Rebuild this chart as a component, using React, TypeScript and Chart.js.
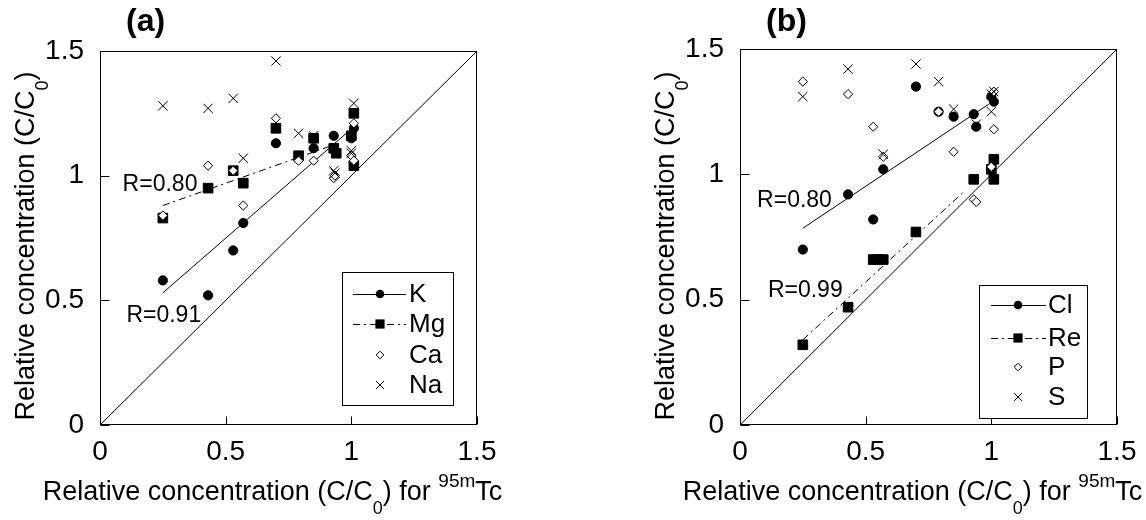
import React, { useEffect, useRef } from 'react';
import { Chart, registerables } from 'chart.js';

Chart.register(...registerables);

const FONT = "'Liberation Sans', Arial, Helvetica, sans-serif";

// ---------- Axis ----------
const AXIS_MIN = 0;
const AXIS_MAX = 1.5;
const AXIS_STEP = 0.5;

// ---------- Panel (a) ----------
const A_K_X = [0.25, 0.43, 0.53, 0.57, 0.70, 0.85, 0.93, 1.00, 1.01];
const A_K_Y = [0.58, 0.52, 0.70, 0.81, 1.13, 1.11, 1.16, 1.15, 1.19];
const A_MG_X = [0.25, 0.43, 0.53, 0.57, 0.70, 0.79, 0.85, 0.93, 0.94, 1.00, 1.01, 1.01];
const A_MG_Y = [0.83, 0.95, 1.02, 0.97, 1.19, 1.08, 1.15, 1.11, 1.09, 1.16, 1.25, 1.04];
const A_CA_X = [0.25, 0.43, 0.53, 0.57, 0.70, 0.79, 0.85, 0.93, 0.935, 1.00, 1.01, 1.01];
const A_CA_Y = [0.84, 1.04, 1.02, 0.88, 1.23, 1.06, 1.06, 0.99, 1.00, 1.08, 1.21, 1.06];
const A_NA_X = [0.25, 0.43, 0.53, 0.57, 0.70, 0.79, 0.85, 0.93, 0.935, 1.00, 1.01, 1.00];
const A_NA_Y = [1.28, 1.27, 1.31, 1.07, 1.46, 1.17, 1.16, 1.02, 1.01, 1.10, 1.29, 1.09];
const A_K_FIT_X = [0.25, 0.98];
const A_K_FIT_Y = [0.53, 1.17];
const A_MG_FIT_X = [0.25, 0.92];
const A_MG_FIT_Y = [0.88, 1.12];

// ---------- Panel (b) ----------
const B_CL_X = [0.25, 0.43, 0.53, 0.57, 0.70, 0.79, 0.85, 0.93, 0.94, 1.00, 1.01];
const B_CL_Y = [0.70, 0.92, 0.82, 1.02, 1.35, 1.25, 1.23, 1.24, 1.19, 1.31, 1.29];
const B_RE_X = [0.25, 0.43, 0.53, 0.55, 0.57, 0.70, 0.93, 1.00, 1.01, 1.01];
const B_RE_Y = [0.32, 0.47, 0.66, 0.66, 0.66, 0.77, 0.98, 1.02, 1.06, 0.98];
const B_P_X = [0.25, 0.43, 0.53, 0.57, 0.79, 0.85, 0.93, 0.94, 1.00, 1.01, 1.01];
const B_P_Y = [1.37, 1.32, 1.19, 1.07, 1.25, 1.09, 0.90, 0.89, 1.03, 1.18, 1.33];
const B_S_X = [0.25, 0.43, 0.57, 0.70, 0.79, 0.85, 0.94, 1.00, 1.00, 1.01];
const B_S_Y = [1.31, 1.42, 1.08, 1.44, 1.37, 1.26, 1.20, 1.25, 1.32, 1.33];
const B_CL_FIT_X = [0.25, 0.99];
const B_CL_FIT_Y = [0.785, 1.28];
const B_RE_FIT_X = [0.25, 0.89];
const B_RE_FIT_Y = [0.34, 0.93];

// 1:1 line
const DIAG_X = [0, 1.5];
const DIAG_Y = [0, 1.5];

const zip = (xs: number[], ys: number[]) => xs.map((x, i) => ({ x, y: ys[i] }));

const DASH_DOT = [7, 4, 2, 4];

type Kind = 'circle' | 'rect' | 'rectRot' | 'crossRot';
interface SeriesDef { label: string; kind: Kind; xs: number[]; ys: number[]; order: number; }
interface FitDef { xs: number[]; ys: number[]; dash: number[]; }
interface LegendItem { label: string; kind: Kind; line: number[] | null; }
interface PanelDef {
  title: string;
  series: SeriesDef[];
  fits: FitDef[];
  legend: LegendItem[];
  legendBox: { x: number; y: number; w: number; h: number; rows: number[]; lineX1: number; lineX2: number; markX: number; textX: number };
  rLabels: { text: string; x: number; y: number }[];
  padding: { left: number; right: number; top: number; bottom: number };
}

function pointOpts(kind: Kind) {
  switch (kind) {
    case 'circle':
      return { pointStyle: 'circle', pointRadius: 4.6, backgroundColor: '#000', borderColor: '#000', borderWidth: 1 };
    case 'rect':
      return { pointStyle: 'rect', pointRadius: 6.8, backgroundColor: '#000', borderColor: '#000', borderWidth: 1 };
    case 'rectRot':
      return { pointStyle: 'rectRot', pointRadius: 4.6, backgroundColor: '#fff', borderColor: '#000', borderWidth: 1 };
    case 'crossRot':
    default:
      return { pointStyle: 'crossRot', pointRadius: 6.6, backgroundColor: '#000', borderColor: '#000', borderWidth: 1 };
  }
}

function drawMarker(ctx: CanvasRenderingContext2D, kind: Kind, x: number, y: number) {
  ctx.save();
  ctx.lineWidth = 1;
  ctx.strokeStyle = '#000';
  ctx.fillStyle = '#000';
  ctx.setLineDash([]);
  ctx.beginPath();
  if (kind === 'circle') {
    ctx.arc(x, y, 4.3, 0, Math.PI * 2);
    ctx.fill();
  } else if (kind === 'rect') {
    ctx.fillRect(x - 4.6, y - 4.6, 9.2, 9.2);
  } else if (kind === 'rectRot') {
    const r = 3.8;
    ctx.moveTo(x - r, y);
    ctx.lineTo(x, y - r);
    ctx.lineTo(x + r, y);
    ctx.lineTo(x, y + r);
    ctx.closePath();
    ctx.fillStyle = '#fff';
    ctx.fill();
    ctx.stroke();
  } else {
    const r = 4;
    ctx.moveTo(x - r, y - r);
    ctx.lineTo(x + r, y + r);
    ctx.moveTo(x + r, y - r);
    ctx.lineTo(x - r, y + r);
    ctx.stroke();
  }
  ctx.restore();
}

interface Seg { t: string; size: number; dy: number; }
function drawRich(ctx: CanvasRenderingContext2D, segs: Seg[], cx: number, baseline: number) {
  const widths = segs.map((s) => {
    ctx.font = `${s.size}px ${FONT}`;
    return ctx.measureText(s.t).width;
  });
  const total = widths.reduce((a, b) => a + b, 0);
  let x = cx - total / 2;
  ctx.textAlign = 'left';
  ctx.textBaseline = 'alphabetic';
  segs.forEach((s, i) => {
    ctx.font = `${s.size}px ${FONT}`;
    ctx.fillText(s.t, x, baseline + s.dy);
    x += widths[i];
  });
}

const Y_TITLE: Seg[] = [
  { t: 'Relative concentration (C/C', size: 27, dy: 0 },
  { t: '0', size: 18, dy: 14 },
  { t: ')', size: 27, dy: 0 },
];
const X_TITLE: Seg[] = [
  { t: 'Relative concentration (C/C', size: 27, dy: 0 },
  { t: '0', size: 18, dy: 14 },
  { t: ') for ', size: 27, dy: 0 },
  { t: '95m', size: 19, dy: -13 },
  { t: 'Tc', size: 27, dy: 0 },
];

function decorPlugin(p: PanelDef) {
  return {
    id: 'panelDecor',
    afterDraw(chart: any) {
      const ctx: CanvasRenderingContext2D = chart.ctx;
      const a = chart.chartArea;
      const xs = chart.scales.x;
      const ys = chart.scales.y;
      ctx.save();
      ctx.strokeStyle = '#000';
      ctx.lineWidth = 1;
      ctx.setLineDash([]);
      const L = Math.round(a.left) + 0.5;
      const R = Math.round(a.right) - 0.5;
      const T = Math.round(a.top) + 0.5;
      const B = Math.round(a.bottom) - 0.5;
      ctx.strokeRect(L, T, R - L, B - T);
      ctx.beginPath();
      xs.ticks.forEach((t: any) => {
        const px = Math.round(xs.getPixelForValue(t.value)) + 0.5;
        ctx.moveTo(px, B);
        ctx.lineTo(px, B - 8);
      });
      ys.ticks.forEach((t: any) => {
        const py = Math.round(ys.getPixelForValue(t.value)) + 0.5;
        ctx.moveTo(L, py);
        ctx.lineTo(L + 9, py);
      });
      ctx.stroke();

      // R labels
      ctx.fillStyle = '#000';
      ctx.font = `23px ${FONT}`;
      ctx.textAlign = 'left';
      ctx.textBaseline = 'middle';
      p.rLabels.forEach((r) => {
        ctx.fillText(r.text, xs.getPixelForValue(r.x), ys.getPixelForValue(r.y));
      });

      // Legend
      const lb = p.legendBox;
      ctx.fillStyle = '#fff';
      ctx.fillRect(lb.x, lb.y, lb.w, lb.h);
      ctx.strokeStyle = '#000';
      ctx.strokeRect(lb.x + 0.5, lb.y + 0.5, lb.w, lb.h);
      p.legend.forEach((it, i) => {
        const y = lb.rows[i];
        if (it.line) {
          ctx.save();
          ctx.beginPath();
          ctx.setLineDash(it.line);
          ctx.lineWidth = 1;
          ctx.moveTo(lb.lineX1, y + 0.5);
          ctx.lineTo(lb.lineX2, y + 0.5);
          ctx.stroke();
          ctx.restore();
        }
        drawMarker(ctx, it.kind, lb.markX, y);
        ctx.fillStyle = '#000';
        ctx.font = `26px ${FONT}`;
        ctx.textAlign = 'left';
        ctx.textBaseline = 'middle';
        ctx.fillText(it.label, lb.textX, y + 1);
      });

      // Axis titles
      ctx.fillStyle = '#000';
      drawRich(ctx, X_TITLE, (a.left + a.right) / 2 - 16, 500);
      ctx.save();
      ctx.translate(a.left - 66, 246);
      ctx.rotate(-Math.PI / 2);
      drawRich(ctx, Y_TITLE, 0, 0);
      ctx.restore();

      // Panel title
      ctx.font = `bold 32px ${FONT}`;
      ctx.textAlign = 'left';
      ctx.textBaseline = 'alphabetic';
      ctx.fillText(p.title, a.left + 26, 31);
      ctx.restore();
    },
  };
}

const fmtTick = (v: any) => String(Number(Number(v).toFixed(2)));

function makeConfig(p: PanelDef): any {
  const datasets: any[] = [];
  p.series.forEach((s) => {
    datasets.push({
      type: 'scatter',
      label: s.label,
      data: zip(s.xs, s.ys),
      showLine: false,
      order: s.order,
      ...pointOpts(s.kind),
    });
  });
  p.fits.forEach((f, i) => {
    datasets.push({
      type: 'line',
      label: 'fit' + i,
      data: zip(f.xs, f.ys),
      borderColor: '#000',
      borderWidth: 1,
      borderDash: f.dash,
      pointRadius: 0,
      fill: false,
      order: 10 + i,
    });
  });
  datasets.push({
    type: 'line',
    label: '1:1',
    data: zip(DIAG_X, DIAG_Y),
    borderColor: '#000',
    borderWidth: 1,
    pointRadius: 0,
    fill: false,
    order: 20,
  });

  const tickFont = { family: FONT, size: 28 };
  return {
    type: 'scatter',
    data: { datasets },
    options: {
      responsive: false,
      animation: false,
      events: [],
      layout: { padding: p.padding },
      plugins: { legend: { display: false }, tooltip: { enabled: false }, title: { display: false } },
      scales: {
        x: {
          type: 'linear',
          min: AXIS_MIN,
          max: AXIS_MAX,
          ticks: { stepSize: AXIS_STEP, font: tickFont, color: '#000', padding: 2, maxRotation: 0, callback: fmtTick },
          grid: { display: false },
          border: { display: false },
          afterFit: (s: any) => { s.height = 40; },
        },
        y: {
          type: 'linear',
          min: AXIS_MIN,
          max: AXIS_MAX,
          ticks: { stepSize: AXIS_STEP, font: tickFont, color: '#000', padding: 8, callback: fmtTick },
          grid: { display: false },
          border: { display: false },
          afterFit: (s: any) => { s.width = 60; },
        },
      },
    },
    plugins: [decorPlugin(p)],
  };
}

const PANEL_A: PanelDef = {
  title: '(a)',
  series: [
    { label: 'K', kind: 'circle', xs: A_K_X, ys: A_K_Y, order: 4 },
    { label: 'Mg', kind: 'rect', xs: A_MG_X, ys: A_MG_Y, order: 3 },
    { label: 'Ca', kind: 'rectRot', xs: A_CA_X, ys: A_CA_Y, order: 2 },
    { label: 'Na', kind: 'crossRot', xs: A_NA_X, ys: A_NA_Y, order: 1 },
  ],
  fits: [
    { xs: A_K_FIT_X, ys: A_K_FIT_Y, dash: [] },
    { xs: A_MG_FIT_X, ys: A_MG_FIT_Y, dash: DASH_DOT },
  ],
  legend: [
    { label: 'K', kind: 'circle', line: [] },
    { label: 'Mg', kind: 'rect', line: DASH_DOT },
    { label: 'Ca', kind: 'rectRot', line: null },
    { label: 'Na', kind: 'crossRot', line: null },
  ],
  legendBox: { x: 342, y: 272, w: 111, h: 133, rows: [294, 324, 355, 385], lineX1: 353, lineX2: 406, markX: 380, textX: 409 },
  rLabels: [
    { text: 'R=0.80', x: 0.09, y: 0.965 },
    { text: 'R=0.91', x: 0.105, y: 0.44 },
  ],
  padding: { left: 40, right: 96, top: 51, bottom: 55 },
};

const PANEL_B: PanelDef = {
  title: '(b)',
  series: [
    { label: 'Cl', kind: 'circle', xs: B_CL_X, ys: B_CL_Y, order: 4 },
    { label: 'Re', kind: 'rect', xs: B_RE_X, ys: B_RE_Y, order: 3 },
    { label: 'P', kind: 'rectRot', xs: B_P_X, ys: B_P_Y, order: 2 },
    { label: 'S', kind: 'crossRot', xs: B_S_X, ys: B_S_Y, order: 1 },
  ],
  fits: [
    { xs: B_CL_FIT_X, ys: B_CL_FIT_Y, dash: [] },
    { xs: B_RE_FIT_X, ys: B_RE_FIT_Y, dash: DASH_DOT },
  ],
  legend: [
    { label: 'Cl', kind: 'circle', line: [] },
    { label: 'Re', kind: 'rect', line: DASH_DOT },
    { label: 'P', kind: 'rectRot', line: null },
    { label: 'S', kind: 'crossRot', line: null },
  ],
  legendBox: { x: 406, y: 285, w: 108, h: 133, rows: [305, 338, 367, 397], lineX1: 418, lineX2: 473, markX: 445, textX: 475 },
  rLabels: [
    { text: 'R=0.80', x: 0.068, y: 0.896 },
    { text: 'R=0.99', x: 0.111, y: 0.536 },
  ],
  padding: { left: 107, right: 29, top: 49, bottom: 55 },
};

export default function App() {
  const refA = useRef<HTMLCanvasElement>(null);
  const refB = useRef<HTMLCanvasElement>(null);
  useEffect(() => {
    const ca = new Chart(refA.current as HTMLCanvasElement, makeConfig(PANEL_A));
    const cb = new Chart(refB.current as HTMLCanvasElement, makeConfig(PANEL_B));
    return () => {
      ca.destroy();
      cb.destroy();
    };
  }, []);
  return (
    <div style={{ position: 'absolute', left: 0, top: 0, width: 1146, height: 520, background: '#fff' }}>
      <canvas ref={refA} width={573} height={520} style={{ position: 'absolute', left: 0, top: 0, width: 573, height: 520 }} />
      <canvas ref={refB} width={573} height={520} style={{ position: 'absolute', left: 573, top: 0, width: 573, height: 520 }} />
    </div>
  );
}
